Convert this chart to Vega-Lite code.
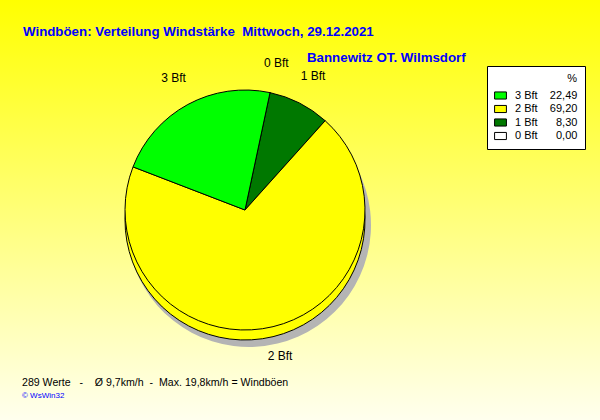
{
  "$schema": "https://vega.github.io/schema/vega-lite/v6.json",
  "padding": 0,
  "background": "#FFFFEE",
  "config": {
    "view": {"stroke": null},
    "concat": {"spacing": 0},
    "font": "Liberation Sans"
  },
  "title": {
    "text": "Windböen: Verteilung Windstärke \u00a0Mittwoch, 29.12.2021",
    "anchor": "start",
    "orient": "top",
    "frame": "group",
    "offset": -38,
    "dx": 23,
    "font": "Liberation Sans",
    "fontSize": 13.3,
    "fontWeight": "bold",
    "color": "#0000FF"
  },
  "datasets": {
    "wind": [
      {"k": "0 Bft", "v": 0.0, "lbl": "0 Bft\u00a0\u00a0\u00a0\u00a0\u00a0\u00a00,00"},
      {"k": "1 Bft", "v": 8.3, "lbl": "1 Bft\u00a0\u00a0\u00a0\u00a0\u00a0\u00a08,30"},
      {"k": "2 Bft", "v": 69.2, "lbl": "2 Bft\u00a0\u00a0\u00a0\u00a069,20"},
      {"k": "3 Bft", "v": 22.49, "lbl": "3 Bft\u00a0\u00a0\u00a0\u00a022,49"}
    ]
  },
  "vconcat": [
    {
      "title": {
        "text": "289 Werte \u00a0\u00a0-\u00a0\u00a0\u00a0 Ø 9,7km/h \u00a0-\u00a0 Max. 19,8km/h = Windböen",
        "subtitle": "© WsWin32",
        "orient": "bottom",
        "anchor": "start",
        "frame": "group",
        "offset": -42,
        "dx": 22,
        "font": "Liberation Sans",
        "fontSize": 10.6,
        "fontWeight": "normal",
        "color": "#000000",
        "subtitleFont": "Liberation Sans",
        "subtitleFontSize": 8,
        "subtitleColor": "#0000FF",
        "subtitlePadding": 3
      },
      "vconcat": [
        {
          "width": 600,
          "height": 420,
          "view": {
            "stroke": null,
            "fill": {
              "gradient": "linear",
              "x1": 0, "y1": 0, "x2": 0, "y2": 1,
              "stops": [
                {"offset": 0, "color": "#FFFF00"},
                {"offset": 1, "color": "#FFFFEE"}
              ]
            }
          },
          "title": {
            "text": "Bannewitz OT. Wilmsdorf",
            "anchor": "start",
            "orient": "top",
            "frame": "group",
            "offset": -64,
            "dx": 307,
            "font": "Liberation Sans",
            "fontSize": 13.3,
            "fontWeight": "bold",
            "color": "#0000FF"
          },
          "data": {"name": "wind"},
          "layer": [
            {
              "mark": {"type": "arc", "radius": 122, "xOffset": -51, "yOffset": 15, "color": "#B4B4B4"},
              "encoding": {
                "theta": {"field": "v", "type": "quantitative", "stack": true, "scale": {"range": [0.21, 6.4932]}},
                "order": {"field": "k", "sort": "ascending"}
              }
            },
            {
              "mark": {"type": "arc", "radius": 120, "xOffset": -55, "yOffset": 10, "stroke": "#000000", "strokeWidth": 1},
              "encoding": {
                "theta": {"field": "v", "type": "quantitative", "stack": true, "scale": {"range": [0.21, 6.4932]}},
                "order": {"field": "k", "sort": "ascending"},
                "color": {"field": "lbl", "type": "nominal"}
              }
            },
            {
              "mark": {"type": "arc", "radius": 120, "xOffset": -55, "yOffset": 0, "stroke": "#000000", "strokeWidth": 1},
              "encoding": {
                "theta": {"field": "v", "type": "quantitative", "stack": true, "scale": {"range": [0.21, 6.4932]}},
                "order": {"field": "k", "sort": "ascending"},
                "color": {
                  "field": "lbl",
                  "type": "nominal",
                  "scale": {
                    "domain": ["3 Bft\u00a0\u00a0\u00a0\u00a022,49", "2 Bft\u00a0\u00a0\u00a0\u00a069,20", "1 Bft\u00a0\u00a0\u00a0\u00a0\u00a0\u00a08,30", "0 Bft\u00a0\u00a0\u00a0\u00a0\u00a0\u00a00,00"],
                    "range": ["#00FF00", "#FFFF00", "#007800", "#FFFFFF"]
                  },
                  "legend": {
                    "title": "%",
                    "orient": "none",
                    "legendX": 487,
                    "legendY": 66,
                    "fillColor": "#FFFFFF",
                    "strokeColor": "#000000",
                    "padding": 7,
                    "titleFont": "Liberation Sans",
                    "titleFontSize": 11,
                    "titleFontWeight": "normal",
                    "titleColor": "#000000",
                    "titleAnchor": "end",
                    "titleAlign": "right",
                    "titlePadding": 5,
                    "symbolType": "M-1,-0.6H1V0.6H-1Z",
                    "symbolSize": 140,
                    "symbolStrokeColor": "#000000",
                    "symbolStrokeWidth": 1,
                    "symbolOpacity": 1,
                    "labelFont": "Liberation Sans",
                    "labelFontSize": 11,
                    "labelColor": "#000000",
                    "labelOffset": 8,
                    "labelLimit": 200,
                    "rowPadding": 0.5
                  }
                }
              }
            },
            {
              "mark": {"type": "text", "radius": 150, "xOffset": -55, "yOffset": 0, "font": "Liberation Sans", "fontSize": 12, "color": "#000000", "baseline": "middle"},
              "encoding": {
                "theta": {"field": "v", "type": "quantitative", "stack": true, "scale": {"range": [0.21, 6.4932]}},
                "order": {"field": "k", "sort": "ascending"},
                "text": {"field": "k", "type": "nominal"}
              }
            }
          ]
        }
      ]
    }
  ]
}
